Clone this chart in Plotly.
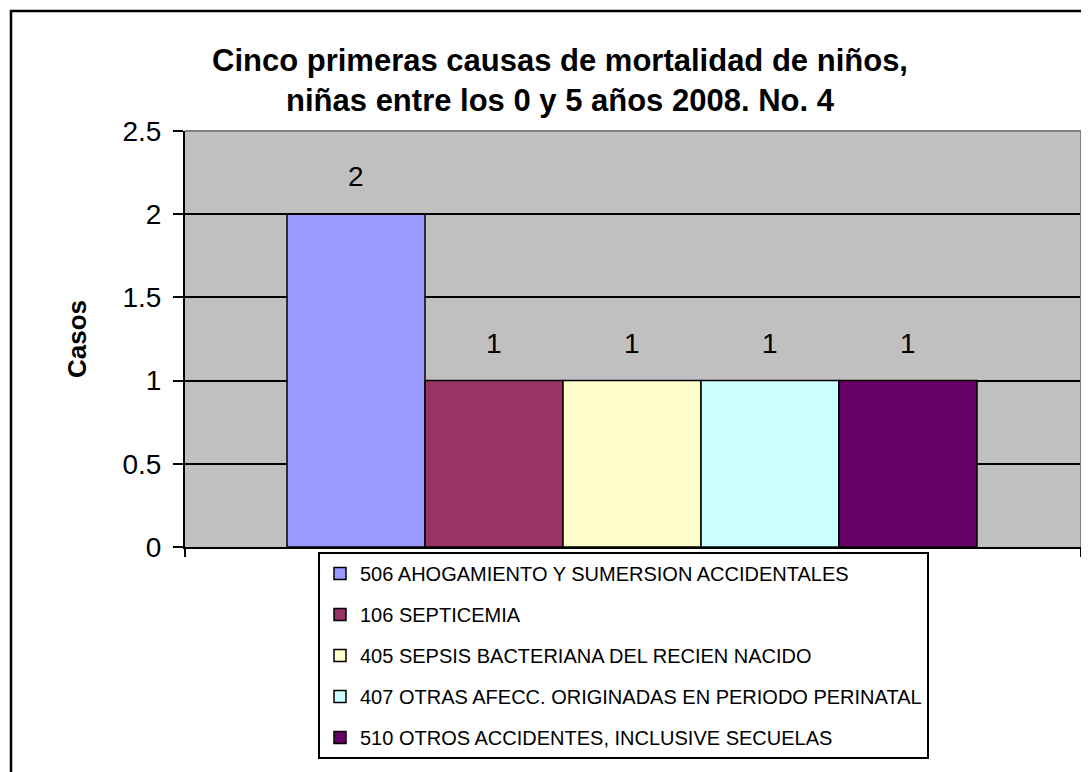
import plotly.graph_objects as go

causes = [
    "506 AHOGAMIENTO Y SUMERSION ACCIDENTALES",
    "106 SEPTICEMIA",
    "405 SEPSIS BACTERIANA DEL RECIEN NACIDO",
    "407 OTRAS AFECC. ORIGINADAS EN PERIODO PERINATAL",
    "510 OTROS ACCIDENTES, INCLUSIVE SECUELAS",
]
casos = [2, 1, 1, 1, 1]
colors = ["#9999FF", "#993366", "#FFFFCC", "#CCFFFF", "#660066"]
y_ticks = [0, 0.5, 1, 1.5, 2, 2.5]
y_tick_labels = ["0", "0.5", "1", "1.5", "2", "2.5"]

OFF = 8  # page body margin
W, H = 1089 - OFF, 772 - OFF
PL, PR, PT, PB = 185, 1081, 131, 547  # plot area in page pixels
L, T = PL - OFF, PT - OFF
R, B = W + OFF - PR, H + OFF - PB
pw, ph = PR - PL, PB - PT

fig = go.Figure()
for i, (c, v, col) in enumerate(zip(causes, casos, colors)):
    fig.add_trace(go.Bar(
        x=[i], y=[v], name=c, width=1,
        marker=dict(color=col, line=dict(color="black", width=1.5)),
        legendgroup=c, showlegend=True, hoverinfo="y",
    ))
    fig.add_annotation(x=i, y=v, text=str(v), showarrow=False,
                       yanchor="bottom", yshift=20,
                       font=dict(family="Liberation Sans, Arial", size=28, color="black"))

units_per_px = len(casos) / 690.0
x0 = -0.5 - (287 - PL) * units_per_px
x1 = x0 + pw * units_per_px

def px_x(p):
    return (p - PL) / pw

def px_y(p):
    return (PB - p) / ph

fig.update_layout(
    width=W, height=H,
    margin=dict(l=L, r=R, t=T, b=B, autoexpand=False),
    paper_bgcolor="white",
    plot_bgcolor="#C0C0C0",
    barmode="overlay",
    font=dict(family="Liberation Sans, Arial", color="black"),
    title=dict(
        text="<b>Cinco primeras causas de mortalidad de niños,<br>niñas entre los 0 y 5 años 2008. No. 4</b>",
        x=(560 - OFF) / W, xref="container", xanchor="center",
        y=1 - (71 - OFF) / H, yref="container", yanchor="middle",
        font=dict(size=31, family="Liberation Sans, Arial", color="black"),
    ),
    xaxis=dict(
        range=[x0, x1], showgrid=False, zeroline=False,
        showticklabels=False, tickmode="array",
        tickvals=[x0, x1 - 0.001], ticks="outside", ticklen=8, tickwidth=2,
        tickcolor="black", showline=True, linecolor="black", linewidth=2,
    ),
    yaxis=dict(
        range=[0, 2.5], tickmode="array", tickvals=y_ticks, ticktext=y_tick_labels,
        ticks="outside", ticklen=10, tickwidth=2, tickcolor="black",
        ticklabelstandoff=6,
        showline=True, linecolor="black", linewidth=2,
        showgrid=True, gridcolor="black", gridwidth=2, zeroline=False,
        tickfont=dict(size=28, family="Liberation Sans, Arial", color="black"),
        title=dict(text="<b>Casos</b>", standoff=28,
                   font=dict(size=26, family="Liberation Sans, Arial", color="black")),
    ),
    legend=dict(
        x=px_x(318), y=px_y(552), xanchor="left", yanchor="top",
        bgcolor="white", bordercolor="black", borderwidth=2,
        font=dict(size=20, family="Liberation Sans, Arial", color="black"),
        tracegroupgap=12, traceorder="grouped",
        itemclick=False, itemdoubleclick=False,
    ),
    showlegend=True,
)

fig.add_shape(type="line", xref="paper", yref="paper", x0=0, x1=1, y0=1, y1=1,
              line=dict(color="#808080", width=2))
fig.add_shape(type="line", xref="paper", yref="paper", x0=1, x1=1, y0=0, y1=1,
              line=dict(color="#808080", width=2))
fig.add_shape(type="rect", xref="paper", yref="paper",
              x0=px_x(11), x1=px_x(1100), y0=px_y(785), y1=px_y(11),
              line=dict(color="black", width=2.5), fillcolor="rgba(0,0,0,0)", layer="below")

fig.write_html("out.html")
